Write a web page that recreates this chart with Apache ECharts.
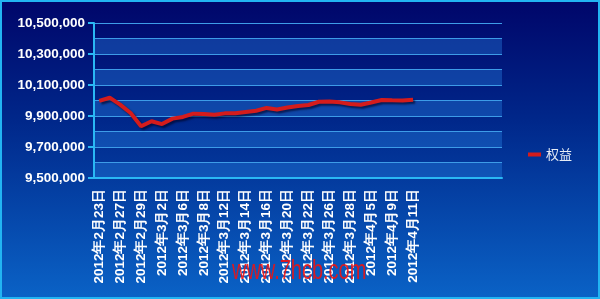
<!DOCTYPE html>
<html><head><meta charset="utf-8">
<script src="https://cdn.jsdelivr.net/npm/echarts@6/dist/echarts.min.js"></script>
<style>
html,body{margin:0;padding:0;}
#c{width:600px;height:299px;box-sizing:border-box;border:2px solid #22b4f2;background:linear-gradient(to bottom,#00066a 0%,#00278a 40%,#0a62c6 100%);}
</style></head>
<body><div id="c"></div>
<script>
const categories = ['2012年2月23日','2012年2月24日','2012年2月27日','2012年2月28日','2012年2月29日','2012年3月1日','2012年3月2日','2012年3月5日','2012年3月6日','2012年3月7日','2012年3月8日','2012年3月9日','2012年3月12日','2012年3月13日','2012年3月14日','2012年3月15日','2012年3月16日','2012年3月19日','2012年3月20日','2012年3月21日','2012年3月22日','2012年3月23日','2012年3月26日','2012年3月27日','2012年3月28日','2012年3月29日','2012年4月5日','2012年4月6日','2012年4月9日','2012年4月10日','2012年4月11日','','','','','','','',''];
const equity = [9998000,10018000,9973000,9919000,9834000,9866000,9848000,9883000,9894000,9915000,9913000,9908000,9917000,9918000,9926000,9934000,9952000,9942000,9955000,9965000,9971000,9992000,9994000,9988000,9977000,9973000,9987000,10003000,10001000,10000000,10005000];
const seriesName = '权益';
const yMin = 9500000, yMax = 10500000;
const watermark = 'www.7hcb.com';

const fmt = v => String(v).replace(/\B(?=(\d{3})+(?!\d))/g, ',');
const chart = echarts.init(document.getElementById('c'), null, {renderer:'canvas'});
chart.setOption({
  animation:false,
  grid:{left:92,top:21,right:96,bottom:119,containLabel:false},
  legend:{
    data:[{name:seriesName,icon:'rect'}],
    left:521, top:141, itemWidth:13, itemHeight:4, itemGap:8,
    textStyle:{color:'#e6ecf5', fontSize:13, fontFamily:'Noto Sans CJK SC'}
  },
  xAxis:{
    type:'category', data:categories, boundaryGap:true,
    axisLine:{lineStyle:{color:'#2ab8f4', width:2}},
    axisTick:{interval:1, length:5, lineStyle:{color:'#2ab8f4', width:2}},
    axisLabel:{interval:1, rotate:90, margin:11, color:'#ffffff', fontWeight:'bold', fontSize:13.5, fontFamily:'Arial, Liberation Sans'},
    splitLine:{show:false}
  },
  yAxis:[{
    type:'value', min:yMin, max:yMax, interval:100000, position:'left', offset:0,
    axisLine:{show:true, lineStyle:{color:'#2ab8f4', width:2}},
    axisTick:{show:false}, axisLabel:{show:false},
    splitLine:{show:true, lineStyle:{color:'#3d9ce8', width:1}},
    splitArea:{show:true, areaStyle:{color:['rgba(40,130,225,0.38)','rgba(0,0,0,0)']}}
  },{
    type:'value', min:yMin, max:yMax, interval:200000, position:'left', offset:0,
    axisLine:{show:false},
    axisTick:{show:true, length:6, lineStyle:{color:'#2ab8f4', width:2}},
    axisLabel:{margin:9, color:'#ffffff', fontWeight:'bold', fontSize:13.5, fontFamily:'Arial, Liberation Sans', formatter:fmt},
    splitLine:{show:false}
  }],
  series:[{
    name:seriesName, type:'line', yAxisIndex:0, data:equity, symbol:'none',
    lineStyle:{color:'#d41c1c', width:4, shadowColor:'rgba(0,0,30,0.6)', shadowBlur:2, shadowOffsetX:2, shadowOffsetY:2},
    itemStyle:{color:'#d41c1c'}
  }],
  graphic:[{
    type:'text', x:230, y:255, scaleX:0.74, scaleY:1.05, z:100,
    style:{text:watermark, fill:'rgba(235,20,20,0.9)', font:'27px Arial, Liberation Sans'}
  }]
});
</script></body></html>
